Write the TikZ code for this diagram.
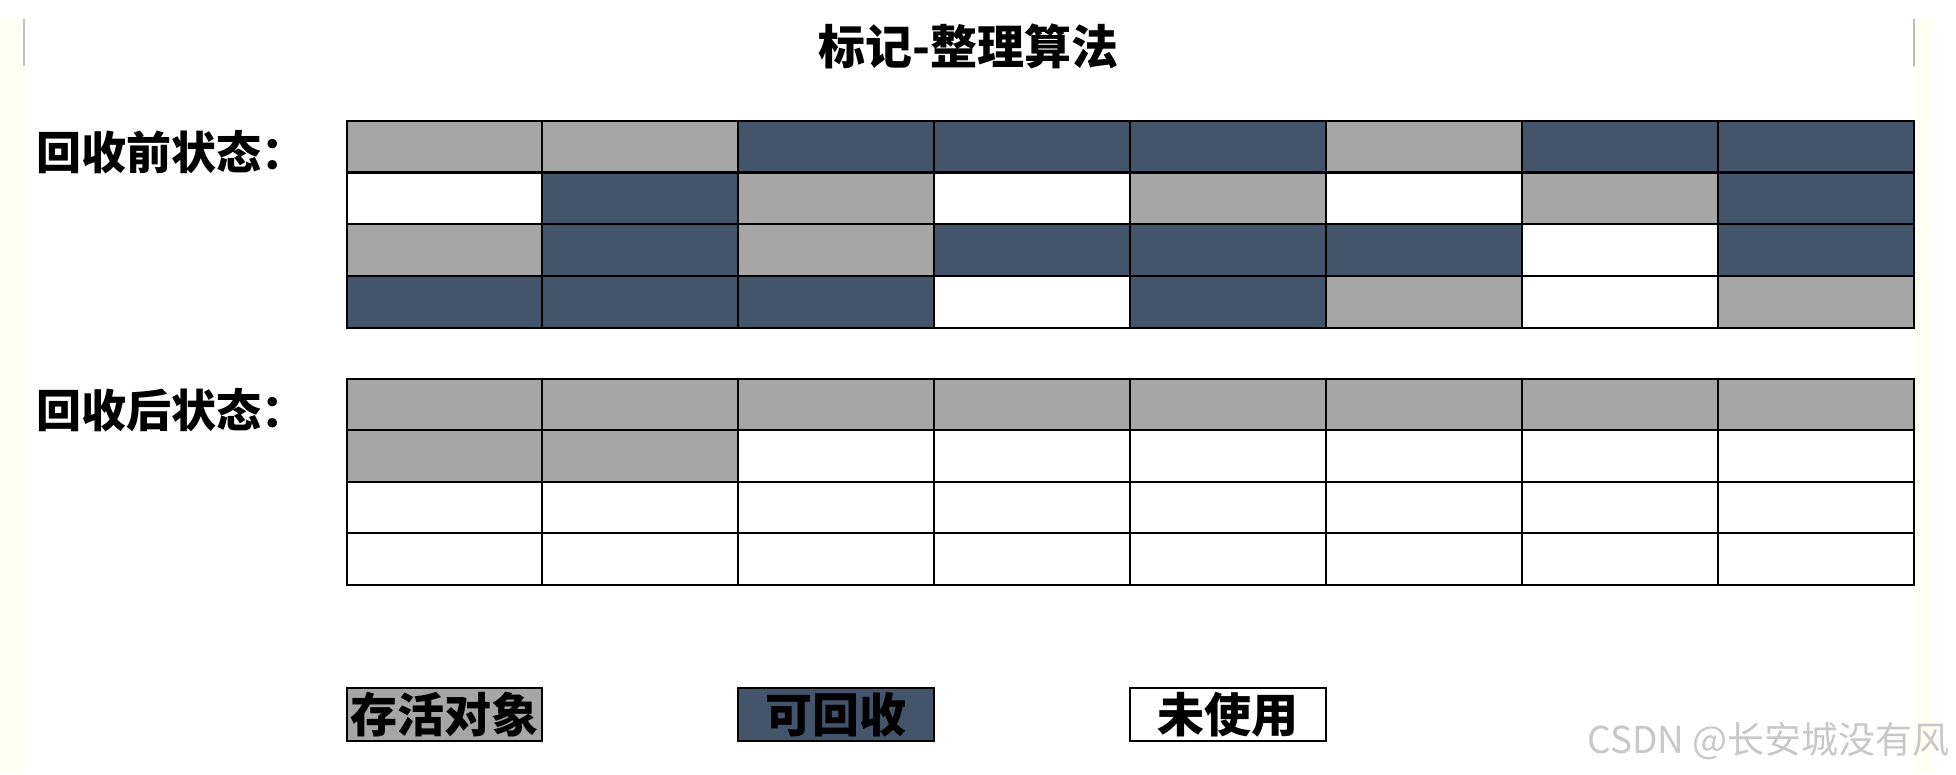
\documentclass[tikz,border=0pt]{standalone}
\usepackage{fontspec}
\newfontfamily\cjk{Noto Sans CJK SC}
\definecolor{live}{HTML}{A6A6A6}
\definecolor{dead}{HTML}{44546A}
\definecolor{strip}{HTML}{FFFFF3}
\definecolor{wm}{HTML}{C8C8C8}
\tikzset{
  cell/.style={draw=black, line width=2pt, minimum width=195.9pt, minimum height=51.6pt, inner sep=0pt, anchor=north west},
  G/.style={cell, fill=live},
  B/.style={cell, fill=dead},
  W/.style={cell, fill=white},
  lbl/.style={font=\cjk\bfseries\fontsize{45}{45}\selectfont, anchor=west, inner sep=0pt},
  leg/.style={font=\cjk\bfseries\fontsize{47}{47}\selectfont, inner sep=0pt},
}
\begin{document}
\begin{tikzpicture}[x=1pt,y=-1pt]
\useasboundingbox (0,0) rectangle (1956,774);
\fill[white] (0,0) rectangle (1956,774);
\fill[strip] (0,20) rectangle (22,774);
\fill[strip] (1915,20) rectangle (1933,774);
\draw[gray!50, line width=1.5pt] (24,19) -- (24,66);
\draw[gray!50, line width=1.5pt] (1914,19) -- (1914,66);
\node[font=\cjk\bfseries\fontsize{47}{47}\selectfont, inner sep=0pt] (title) at (968,46) {标记-整理算法};
\node[lbl] (before) at (36,152) {回收前状态：};
\node[lbl] (after) at (36,410) {回收后状态：};
% before grid
\foreach \r/\row in {0/{G,G,B,B,B,G,B,B},1/{W,B,G,W,G,W,G,B},2/{G,B,G,B,B,B,W,B},3/{B,B,B,W,B,G,W,G}}{
  \foreach \s [count=\c from 0] in \row {
    \node[\s] (pre-\r-\c) at ({345.5+\c*195.9},{119.8+\r*51.75}) {};
  }
}
% after grid
\foreach \r/\row in {0/{G,G,G,G,G,G,G,G},1/{G,G,W,W,W,W,W,W},2/{W,W,W,W,W,W,W,W},3/{W,W,W,W,W,W,W,W}}{
  \foreach \s [count=\c from 0] in \row {
    \node[\s] (post-\r-\c) at ({345.5+\c*195.9},{378+\r*51.45}) {};
  }
}
% legend
\node[G, minimum height=53pt] (k1) at (345.5,687) {};
\node[leg] (k1t) at (k1.center) {存活对象};
\node[B, minimum height=53pt] (k2) at (737.3,687) {};
\node[leg] (k2t) at (k2.center) {可回收};
\node[W, minimum height=53pt] (k3) at (1129.1,687) {};
\node[leg] (k3t) at (k3.center) {未使用};
\node[font=\cjk\fontsize{37}{37}\selectfont, text=wm, anchor=east, inner sep=0pt] (wmk) at (1950,741) {CSDN @长安城没有风};
\end{tikzpicture}
\end{document}
